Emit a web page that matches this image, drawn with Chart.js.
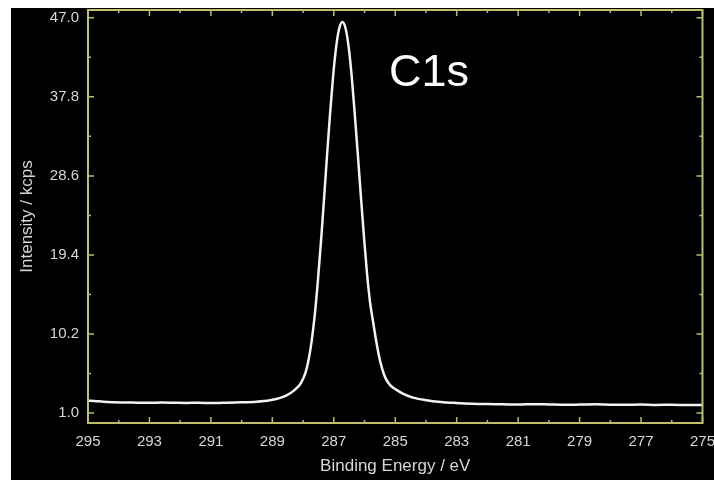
<!DOCTYPE html>
<html lang="en">
<head>
<meta charset="utf-8" />
<title>C1s spectrum</title>
<script src="https://cdn.jsdelivr.net/npm/chart.js@4.4.1/dist/chart.umd.min.js"></script>
<style>
    html, body { margin: 0; padding: 0; background: #fff; overflow: hidden; width: 714px; height: 480px; }
    #panel { position: absolute; left: 11px; top: 8px; right: 0; bottom: 0; background: #000; }
    /* canvas runs past the window so the plot box lands where the axis labels need it */
    #myChart { position: absolute; left: 11px; top: -8px; }
</style>
</head>
<body>
<div id="panel"></div>
<canvas id="myChart" width="714" height="488"></canvas>
<script>
// binding energy (eV) and intensity (kcps) of the C1s scan
var energy = [
    295.0, 294.8, 294.5, 294.2, 293.8, 293.4, 293.0, 292.6, 292.2, 291.8,
    291.4, 291.0, 290.6, 290.02, 289.52, 289.08, 288.77, 288.52, 288.27, 288.07,
    287.92, 287.82, 287.72, 287.62, 287.52, 287.42, 287.32, 287.22, 287.12, 287.02,
    286.92, 286.82, 286.72, 286.62, 286.52, 286.42, 286.32, 286.22, 286.12, 286.02,
    285.92, 285.82, 285.72, 285.62, 285.52, 285.42, 285.32, 285.22, 285.12, 284.96,
    284.72, 284.42, 283.99, 283.52, 283.02, 282.5, 282.0, 281.5, 281.0, 280.5,
    280.0, 279.5, 279.0, 278.5, 278.0, 277.5, 277.0, 276.5, 276.0, 275.5, 275.0
];
var intensity = [
    2.45, 2.42, 2.32, 2.27, 2.24, 2.22, 2.20, 2.23, 2.21, 2.18,
    2.21, 2.17, 2.20, 2.25, 2.33, 2.50, 2.75, 3.10, 3.70, 4.50,
    5.70, 7.20, 9.40, 12.4, 16.3, 20.8, 25.8, 31.0, 35.9, 40.3,
    43.7, 45.8, 46.5, 45.8, 43.7, 40.3, 35.9, 31.2, 26.3, 21.6,
    17.3, 13.9, 11.6, 9.40, 7.50, 6.10, 5.10, 4.50, 4.10, 3.70,
    3.20, 2.80, 2.50, 2.30, 2.18, 2.09, 2.05, 2.03, 2.00, 2.04,
    2.01, 1.97, 1.99, 2.02, 1.98, 1.96, 1.99, 1.95, 1.97, 1.94, 1.95
];

var xMajor = [295, 293, 291, 289, 287, 285, 283, 281, 279, 277, 275];
var xMinor = [294, 292, 290, 288, 286, 284, 282, 280, 278, 276];
var yMajor = [1.0, 10.2, 19.4, 28.6, 37.8, 47.0];
var yMinor = [5.6, 14.8, 24.0, 33.2, 42.4];

var frameColor = '#bdbd6a';
var labelColor = '#d6d6d6';
var fontFamily = '"Liberation Sans", Arial, sans-serif';

var points = [];
for (var i = 0; i < energy.length; i++) {
    points.push({x: energy[i], y: intensity[i]});
}

// box round the plot with inward tick marks on all four sides, plus the peak name
var framePlugin = {
    id: 'frame',
    afterDatasetsDraw: function(chart) {
        var ctx = chart.ctx, a = chart.chartArea;
        var xs = chart.scales.x, ys = chart.scales.y;
        ctx.save();
        ctx.strokeStyle = frameColor;
        ctx.lineWidth = 2;
        ctx.strokeRect(a.left, a.top, a.right - a.left, a.bottom - a.top);

        ctx.lineWidth = 1.5;
        function xTick(v, len) {
            var px = xs.getPixelForValue(v);
            ctx.beginPath();
            ctx.moveTo(px, a.bottom); ctx.lineTo(px, a.bottom - len);
            ctx.moveTo(px, a.top); ctx.lineTo(px, a.top + len);
            ctx.stroke();
        }
        function yTick(v, len) {
            var py = ys.getPixelForValue(v);
            ctx.beginPath();
            ctx.moveTo(a.left, py); ctx.lineTo(a.left + len, py);
            ctx.moveTo(a.right, py); ctx.lineTo(a.right - len, py);
            ctx.stroke();
        }
        xMajor.forEach(function(v) { xTick(v, 6); });
        xMinor.forEach(function(v) { xTick(v, 3); });
        yMajor.forEach(function(v) { yTick(v, 6); });
        yMinor.forEach(function(v) { yTick(v, 3); });

        ctx.fillStyle = '#ffffff';
        ctx.font = '45px ' + fontFamily;
        ctx.textAlign = 'center';
        ctx.textBaseline = 'middle';
        ctx.fillText('C1s', xs.getPixelForValue(283.9), ys.getPixelForValue(40.5));
        ctx.restore();
    }
};

var ctx = document.getElementById('myChart');
var myChart = new Chart(ctx, {
    type: 'line',
    data: {
        datasets: [{
            data: points,
            borderColor: '#f2f2f2',
            borderWidth: 2.5,
            pointRadius: 0,
            cubicInterpolationMode: 'monotone',
            fill: false
        }]
    },
    options: {
        responsive: false,
        animation: false,
        layout: { padding: 0 },
        plugins: { legend: { display: false }, tooltip: { enabled: false } },
        scales: {
            x: {
                type: 'linear',
                reverse: true,
                min: 275,
                max: 295,
                afterBuildTicks: function(s) { s.ticks = xMajor.map(function(v) { return {value: v}; }); },
                afterFit: function(s) { s.height = 57; },
                grid: { display: false, drawTicks: false },
                border: { display: false },
                ticks: {
                    color: labelColor,
                    font: { family: fontFamily, size: 15 },
                    padding: 10,
                    maxRotation: 0,
                    autoSkip: false,
                    callback: function(v) { return String(v); }
                },
                title: {
                    display: true,
                    text: 'Binding Energy / eV',
                    color: labelColor,
                    font: { family: fontFamily, size: 17 },
                    padding: { top: 0, bottom: 3 }
                }
            },
            y: {
                type: 'linear',
                min: -0.15,
                max: 47.9,
                afterBuildTicks: function(s) { s.ticks = yMajor.map(function(v) { return {value: v}; }); },
                afterFit: function(s) { s.width = 77; },
                grid: { display: false, drawTicks: false },
                border: { display: false },
                ticks: {
                    color: labelColor,
                    font: { family: fontFamily, size: 15 },
                    padding: 9,
                    autoSkip: false,
                    callback: function(v) { return v.toFixed(1); }
                },
                title: {
                    display: true,
                    text: 'Intensity / kcps',
                    color: labelColor,
                    font: { family: fontFamily, size: 17 },
                    padding: { top: 6, bottom: 0 }
                }
            }
        }
    },
    plugins: [framePlugin]
});
</script>
</body>
</html>
